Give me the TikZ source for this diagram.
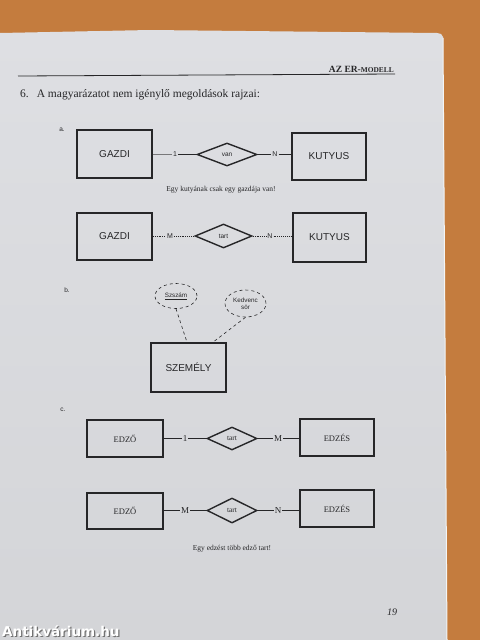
\documentclass[tikz,border=0pt]{standalone}
\usepackage{fontspec}
\setmainfont{Liberation Serif}
\newfontfamily\arialf{Liberation Sans}
\newfontfamily\wmfont{DejaVu Sans}
\usetikzlibrary{shapes.geometric,calc}
\definecolor{ink}{RGB}{38,38,40}
\definecolor{paper}{RGB}{212,213,216}
\definecolor{papertop}{RGB}{222,223,227}
\definecolor{wood}{RGB}{196,124,62}
\definecolor{grayline}{RGB}{120,120,122}
\tikzset{
  ent/.style={rectangle, draw=ink, line width=1.6pt, inner sep=0pt, text=ink,
    font=\arialf\fontsize{10}{12}\selectfont},
  entc/.style={rectangle, draw=ink, line width=1.5pt, inner sep=0pt, text=ink,
    font=\rmfamily\fontsize{8.5}{10}\selectfont},
  rel/.style={diamond, draw=ink, line width=1.4pt, inner sep=0pt, text=ink,
    font=\arialf\fontsize{6.5}{7}\selectfont},
  relc/.style={diamond, draw=ink, line width=1.4pt, inner sep=0pt, text=ink,
    font=\rmfamily\fontsize{7.5}{8}\selectfont},
  card/.style={inner sep=0.8pt, text=ink, font=\arialf\fontsize{7}{8}\selectfont},
  cardc/.style={inner sep=0.8pt, text=ink, font=\rmfamily\fontsize{9}{10}\selectfont},
  conn/.style={draw=ink, line width=0.7pt},
  dotconn/.style={draw=ink, line width=0.7pt, dash pattern=on 0.8pt off 1.1pt},
  attr/.style={ellipse, draw=ink, dashed, line width=0.6pt, inner sep=0pt, align=center,
    text=ink, font=\arialf\fontsize{6.3}{7}\selectfont},
  caption/.style={text=ink, font=\rmfamily\fontsize{7.5}{9}\selectfont},
  part/.style={text=ink, font=\arialf\fontsize{6.5}{7}\selectfont},
}
\begin{document}
\begin{tikzpicture}[x=1pt,y=-1pt]
\useasboundingbox (0,0) rectangle (480,640);
% background: wood and page
\fill[wood] (0,0) rectangle (480,640);
\shade[top color=papertop, bottom color=paper]
  (0,33) -- (150,30) -- (437,33) to[out=0,in=90] (443,37) -- (447,640) -- (0,640) -- cycle;
\draw[white!75!paper, line width=1pt] (443,38) -- (447,640);

% header
\draw[ink, line width=0.8pt] (18,76) -- (395,74);
\node[anchor=base east, inner sep=0pt, text=ink] (hdr) at (394,72)
  {\bfseries\fontsize{9.5}{10}\selectfont AZ ER-\fontsize{7.4}{8}\selectfont MODELL};
\node[anchor=base west, inner sep=0pt, text=ink, font=\rmfamily\fontsize{11.5}{13}\selectfont] (q6) at (20,97)
  {6.\hspace{8pt}A magyarázatot nem igénylő megoldások rajzai:};

% part a, first
\node[part] (pa) at (62,130) {a.};
\node[ent, minimum width=75pt, minimum height=48pt] (g1) at (114.5,154) {GAZDI};
\node[rel, minimum width=60pt, minimum height=23pt] (d1) at (227,154.5) {van};
\node[ent, minimum width=74pt, minimum height=47pt] (k1) at (329,156.5) {KUTYUS};
\node[card] (c11) at (175,154.5) {1};
\node[card] (c12) at (275,154.5) {N};
\draw[conn, draw=grayline] (g1.east |- c11) -- (c11);
\draw[conn] (c11) -- (d1.west);
\draw[conn] (d1.east) -- (c12);
\draw[conn] (c12) -- (k1.west |- c12);
\node[caption] (cap1) at (221,190) {Egy kutyának csak egy gazdája van!};

% part a, second
\node[ent, minimum width=75pt, minimum height=47pt] (g2) at (114.5,236.5) {GAZDI};
\node[rel, minimum width=57pt, minimum height=24pt] (d2) at (223.5,236) {tart};
\node[ent, minimum width=73pt, minimum height=49pt] (k2) at (329.5,237.5) {KUTYUS};
\node[card] (c21) at (170,236) {M};
\node[card] (c22) at (270,236) {N};
\draw[dotconn] (g2.east |- c21) -- (c21);
\draw[dotconn] (c21) -- (d2.west);
\draw[dotconn] (d2.east) -- (c22);
\draw[dotconn] (c22) -- (k2.west |- c22);

% part b
\node[part] (pb) at (67,290) {b.};
\node[attr, minimum width=42pt, minimum height=25pt] (e1) at (176,296) {\underline{Szszám}};
\node[attr, minimum width=41pt, minimum height=27pt] (e2) at (245.5,303.5) {Kedvenc\\sör};
\node[ent, minimum width=75pt, minimum height=49pt] (s) at (188.5,367.5) {SZEMÉLY};
\draw[conn, dashed, line width=0.6pt] (e1.south) -- ([xshift=-1.5pt]s.north);
\draw[conn, dashed, line width=0.6pt] (e2.south) -- ([xshift=24.5pt]s.north);

% part c, first
\node[part] (pc) at (63,410) {c.};
\node[entc, minimum width=76pt, minimum height=37pt] (z1) at (125,438.5) {EDZŐ};
\node[relc, minimum width=50pt, minimum height=23pt] (d3) at (232,438.5) {tart};
\node[entc, minimum width=74pt, minimum height=37pt] (z2) at (337,437.5) {EDZÉS};
\node[cardc] (c31) at (185,438.5) {1};
\node[cardc] (c32) at (278,438.5) {M};
\draw[conn] (z1.east |- c31) -- (c31);
\draw[conn] (c31) -- (d3.west);
\draw[conn] (d3.east) -- (c32);
\draw[conn] (c32) -- (z2.west |- c32);

% part c, second
\node[entc, minimum width=76pt, minimum height=36pt] (z3) at (125,511) {EDZŐ};
\node[relc, minimum width=50pt, minimum height=25pt] (d4) at (232,510.5) {tart};
\node[entc, minimum width=74pt, minimum height=37pt] (z4) at (337,508.5) {EDZÉS};
\node[cardc] (c41) at (185,510.5) {M};
\node[cardc] (c42) at (278,510.5) {N};
\draw[conn] (z3.east |- c41) -- (c41);
\draw[conn] (c41) -- (d4.west);
\draw[conn] (d4.east) -- (c42);
\draw[conn] (c42) -- (z4.west |- c42);
\node[caption] (cap2) at (232,549) {Egy edzést több edző tart!};

% page number
\node[text=ink, font=\rmfamily\itshape\fontsize{10}{12}\selectfont] (pn) at (392,612) {19};

% watermark
\node[anchor=base west, inner sep=0pt, text=black!55, font=\wmfont\bfseries\fontsize{13.5}{15}\selectfont] (wms) at (3.2,637.2) {Antikvárium.hu};
\node[anchor=base west, inner sep=0pt, text=white, font=\wmfont\bfseries\fontsize{13.5}{15}\selectfont] (wm) at (2,636) {Antikvárium.hu};
\end{tikzpicture}
\end{document}
